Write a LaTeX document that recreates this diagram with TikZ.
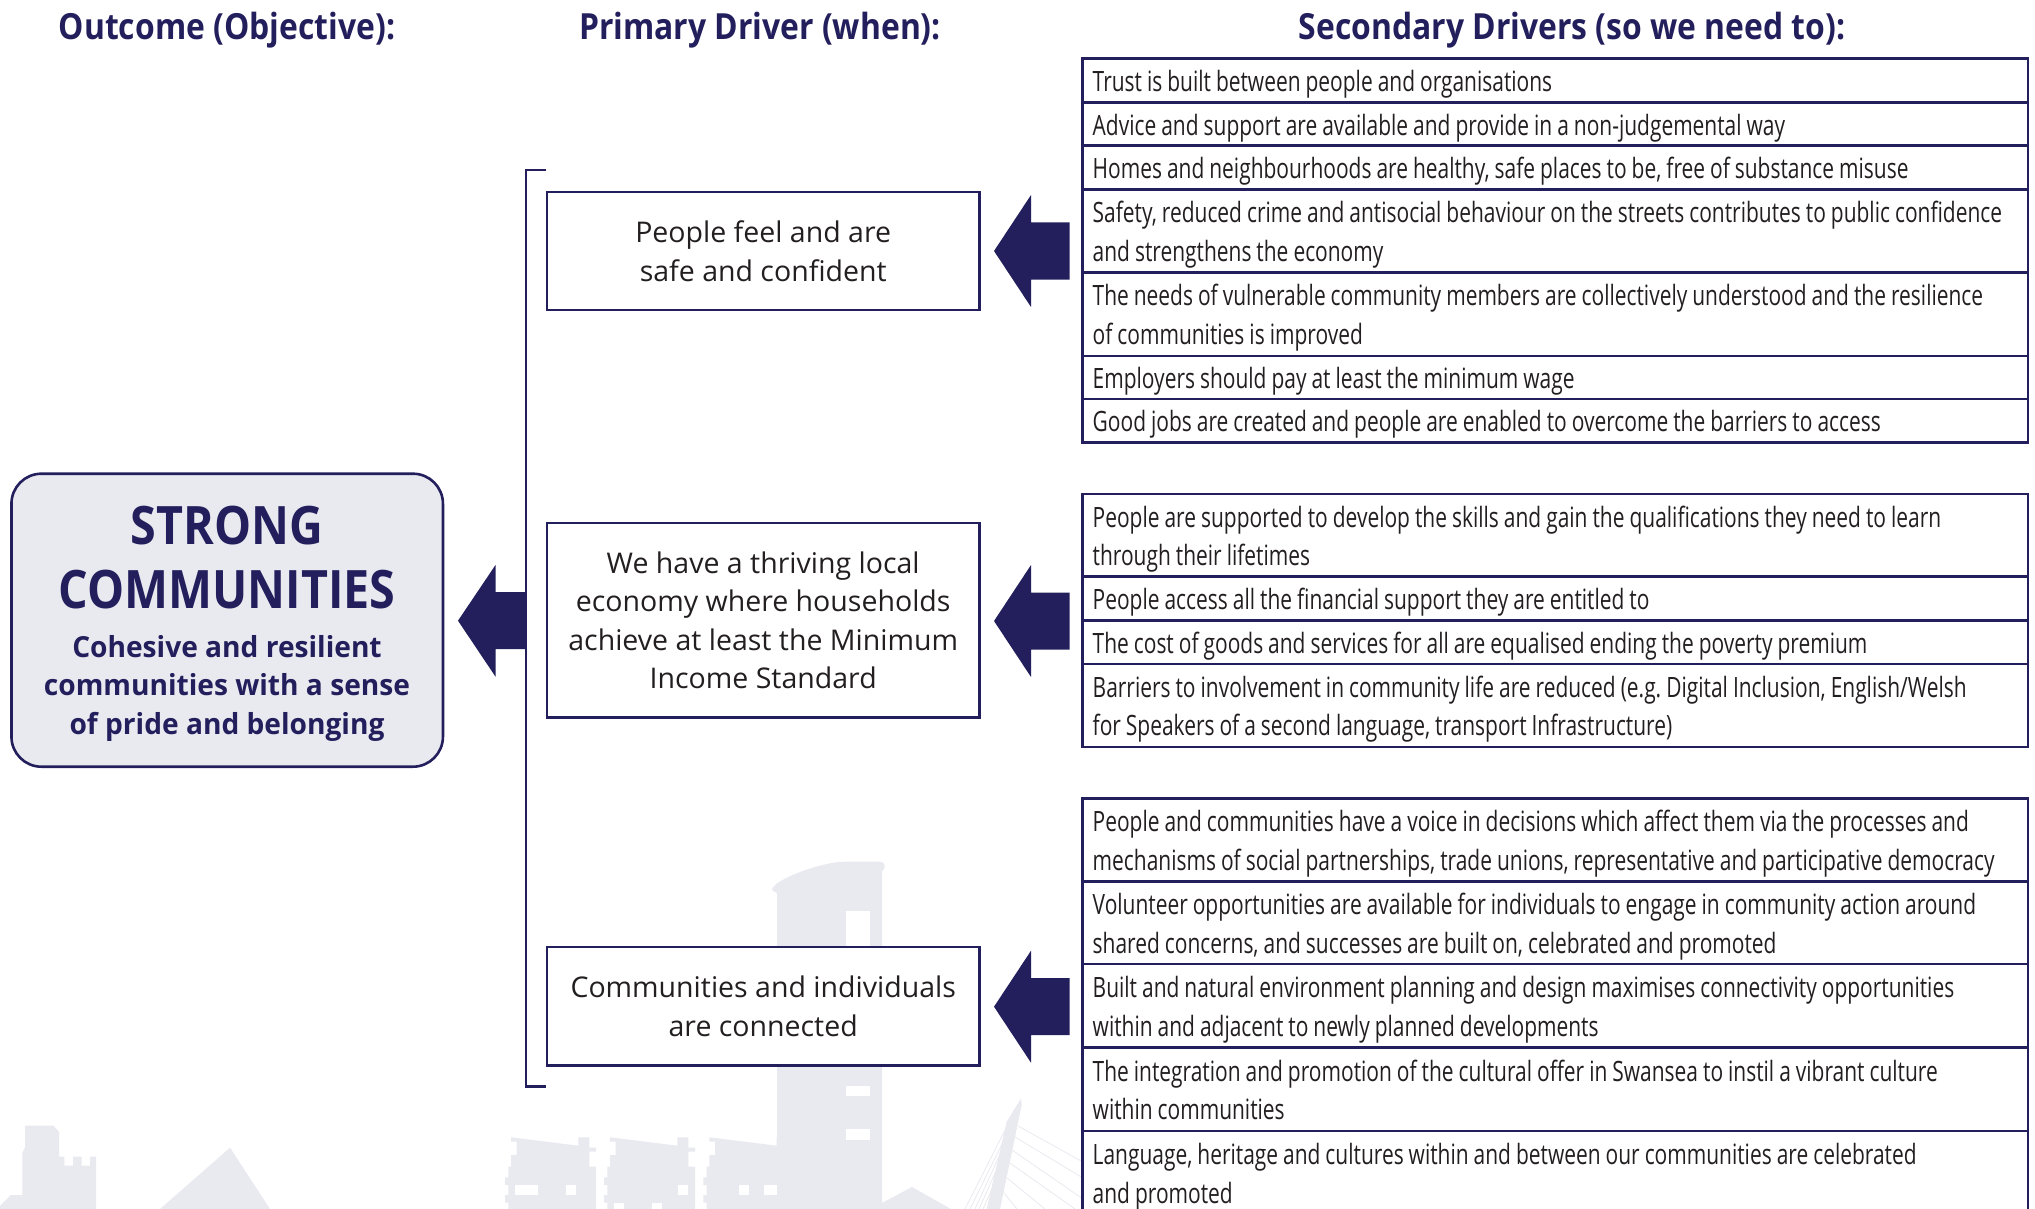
\documentclass[tikz,border=0pt]{standalone}
\usepackage{fontspec}
\setmainfont{Open Sans}
\newfontfamily\tablefont[FakeStretch=0.748]{Open Sans}
\newfontfamily\boxfont[FakeStretch=1.0]{Open Sans}
\newfontfamily\headfont[FakeStretch=0.885]{Open Sans}
\newfontfamily\titlefont[FakeStretch=0.88]{Open Sans}
\newfontfamily\subfont[FakeStretch=0.97]{Open Sans}
\definecolor{navy}{HTML}{231F5C}
\definecolor{inkc}{HTML}{231F20}
\definecolor{skyl}{HTML}{E9E9F0}
\tikzset{
  rowbox/.style={draw=navy,fill=white,line width=2.6pt,rectangle,outer sep=0pt,inner xsep=10pt,inner ysep=0pt,
    anchor=north west,minimum width=945.3pt,text width=925.3pt,align=left,text=inkc,
    font=\tablefont\fontsize{28}{38.7}\selectfont},
  driverbox/.style={draw=navy,fill=white,line width=2.6pt,rectangle,outer sep=0pt,inner sep=0pt,
    minimum width=432.5pt,align=center,text=inkc,font=\boxfont\fontsize{28.5}{38.6}\selectfont},
  header/.style={text=navy,anchor=base,inner sep=0pt,font=\headfont\bfseries\fontsize{36}{40}\selectfont},
  skyfill/.style={fill=skyl,draw=none},
  hole/.style={fill=white,draw=none},
  cable/.style={draw=skyl,line width=0.8pt},
  blockarrow/.style={fill=navy,draw=none},
  bracketline/.style={draw=navy,line width=2.6pt},
  outcome/.style={draw=navy,fill=skyl,line width=2.6pt,rounded corners=30pt,outer sep=0pt,inner sep=0pt,
    minimum width=431.5pt,minimum height=293pt},
  bigtitle/.style={text=navy,anchor=base,inner sep=0pt,font=\titlefont\bfseries\fontsize{53}{60}\selectfont},
  subtitle/.style={text=navy,anchor=base,inner sep=0pt,align=center,font=\subfont\bfseries\fontsize{29}{38.5}\selectfont}
}
\newcommand{\rowat}[4]{\node[rowbox,minimum height={(#3-#2)*1pt}] (#1) at (1082.7,#2) {\spaceskip=5pt\relax\xspaceskip=5pt\relax\leavevmode\vrule height 29pt depth 0pt width 0pt\relax #4\vrule height 0pt depth 6.5pt width 0pt\relax};\ignorespaces}
\newcommand{\housebody}{%
  \fill[skyfill] (511,1137.3) -- (578.3,1145.7) -- (578.3,1137.3) -- (589.3,1137.3) -- (589.3,1147.7) -- (596,1147.7)
    -- (596,1151.7) -- (589.3,1151.7) -- (589.3,1166.7) -- (596,1166.7) -- (596,1209) -- (508.3,1209) -- (508.3,1202.7)
    -- (505,1202.7) -- (505,1195) -- (508.3,1195) -- (508.3,1185) -- (505,1185) -- (505,1177.3) -- (508.3,1177.3)
    -- (508.3,1166.7) -- (511,1166.7) -- (511,1155) -- (516.7,1155) -- (516.7,1141.7) -- (511,1141.7) -- cycle;}
\begin{document}
\begin{tikzpicture}[x=1pt,y=-1pt]
\clip (0,0) rectangle (2035,1209);
% skyline
\fill[skyfill] (0,1209) -- (0,1206) -- (10.7,1195) -- (22.3,1195) -- (22.3,1153.3) -- (25,1147.3) -- (25,1125.7) -- (53.3,1125.7)
  -- (59,1131.7) -- (59,1156.7) -- (64.3,1156.7) -- (64.3,1165.7) -- (73,1165.7) -- (73,1156.7) -- (81.7,1156.7) -- (81.7,1165.7)
  -- (90,1165.7) -- (90,1156.7) -- (96,1156.7) -- (96,1209) -- cycle;
\fill[skyfill] (160,1209) -- (230,1147.7) -- (270,1209) -- cycle;
\housebody
\begin{scope}[shift={(99,0)}]\housebody\end{scope}
\begin{scope}[shift={(198.3,0)}]\housebody\end{scope}
\fill[skyfill] (777,1209) -- (777,893.3) -- (772,890) .. controls (772,880) and (825,860) .. (849,861.7)
  -- (880,861.7) .. controls (886,862) and (886,868) .. (882,871.7) -- (882,1203) -- (912,1187) -- (951,1209) -- cycle;
\fill[skyfill] (1021,1098.5) -- (1021.7,1105) -- (1000,1209) -- (986.7,1209) -- (1006.7,1121.7) -- cycle;
\foreach \xa/\ya/\xb/\yb in {1018/1126/1083/1162, 1015/1137/1083/1178, 1012/1150/1083/1199, 1010/1163/1075/1209, 1007/1178/1045/1209, 1004/1193/1017/1209}
  \draw[cable] (\xa,\ya) -- (\xb,\yb);
\foreach \xa/\ya/\xb/\yb in {1005/1130/965/1209, 1004/1140/970/1209, 1002/1150/975/1209, 1000/1162/979/1209, 998/1175/983/1209}
  \draw[cable] (\xa,\ya) -- (\xb,\yb);
\fill[hole] (845.6,911) rectangle (870,950);
\fill[hole] (845.6,1086) rectangle (870,1096);
\fill[hole] (845.6,1129) rectangle (870,1140);
\fill[hole] (515,1185) rectangle (537.7,1195);
\fill[hole] (566,1185) rectangle (576,1195);
\fill[hole] (678.3,1185) rectangle (688.3,1195);
\fill[hole] (614,1202.7) rectangle (624,1209);
\fill[hole] (652.3,1202.7) rectangle (662.3,1209);
\fill[hole] (739,1185) rectangle (748.7,1195);
\fill[hole] (764.3,1185) rectangle (777,1195);
% headers
\node[header] (hOutcome) at (227,40) {Outcome (Objective):};
\node[header] (hPrimary) at (760,40) {Primary Driver (when):};
\node[header] (hSecondary) at (1572,40) {Secondary Drivers (so we need to):};
% outcome
\node[outcome] (outcomebox) at (227.2,620.2) {};
\node[bigtitle] (tStrong) at (227,544) {STRONG};
\node[bigtitle] (tCommunities) at (227,608) {COMMUNITIES};
\node[subtitle] (tSub) at (227,734) {Cohesive and resilient\\communities with a sense\\of pride and belonging};
% bracket
\coordinate (brTop) at (546,170);
\coordinate (brBot) at (546,1086.7);
\draw[bracketline] (brTop) -| (526,628) |- (brBot);
% arrows
\fill[blockarrow] (458,620.7) -- (495.5,565) -- (495.5,592) -- (526,592) -- (526,649) -- (495.5,649) -- (495.5,676.7) -- cycle;
\foreach \cy in {251,621,1006.7}
  \fill[blockarrow] (994,\cy) -- (1031,\cy-56) -- (1031,\cy-28.5) -- (1069.5,\cy-28.5) -- (1069.5,\cy+28.5) -- (1031,\cy+28.5) -- (1031,\cy+56) -- cycle;
% driver boxes
\node[driverbox,minimum height=118pt] (d1) at (763.2,251) {People feel and are\\safe and confident};
\node[driverbox,minimum height=194.7pt] (d2) at (763.2,620.3) {We have a thriving local\\economy where households\\achieve at least the Minimum\\Income Standard};
\node[driverbox,minimum height=118.7pt] (d3) at (763.2,1006.3) {Communities and individuals\\are connected};
% table 1
\rowat{a1}{58.7}{102.3}{Trust is built between people and organisations}
\rowat{a2}{102.3}{145.7}{Advice and support are available and provide in a non-judgemental way}
\rowat{a3}{145.7}{189.3}{Homes and neighbourhoods are healthy, safe places to be, free of substance misuse}
\rowat{a4}{189.3}{272.3}{Safety, reduced crime and antisocial behaviour on the streets contributes to public confidence\\and strengthens the economy}
\rowat{a5}{272.3}{356}{The needs of vulnerable community members are collectively understood and the resilience\\of communities is improved}
\rowat{a6}{356}{399}{Employers should pay at least the minimum wage}
\rowat{a7}{399}{442.3}{Good jobs are created and people are enabled to overcome the barriers to access}
% table 2
\rowat{b1}{494}{576.7}{People are supported to develop the skills and gain the qualifications they need to learn\\through their lifetimes}
\rowat{b2}{576.7}{620.7}{People access all the financial support they are entitled to}
\rowat{b3}{620.7}{664}{The cost of goods and services for all are equalised ending the poverty premium}
\rowat{b4}{664}{747}{Barriers to involvement in community life are reduced (e.g. Digital Inclusion, English/Welsh\\for Speakers of a second language, transport Infrastructure)}
% table 3
\rowat{c1}{798.3}{881.7}{People and communities have a voice in decisions which affect them via the processes and\\mechanisms of social partnerships, trade unions, representative and participative democracy}
\rowat{c2}{881.7}{964}{Volunteer opportunities are available for individuals to engage in community action around\\shared concerns, and successes are built on, celebrated and promoted}
\rowat{c3}{964}{1047.7}{Built and natural environment planning and design maximises connectivity opportunities\\within and adjacent to newly planned developments}
\rowat{c4}{1047.7}{1131}{The integration and promotion of the cultural offer in Swansea to instil a vibrant culture\\within communities}
\rowat{c5}{1131}{1215}{Language, heritage and cultures within and between our communities are celebrated\\and promoted}
\end{tikzpicture}
\end{document}
